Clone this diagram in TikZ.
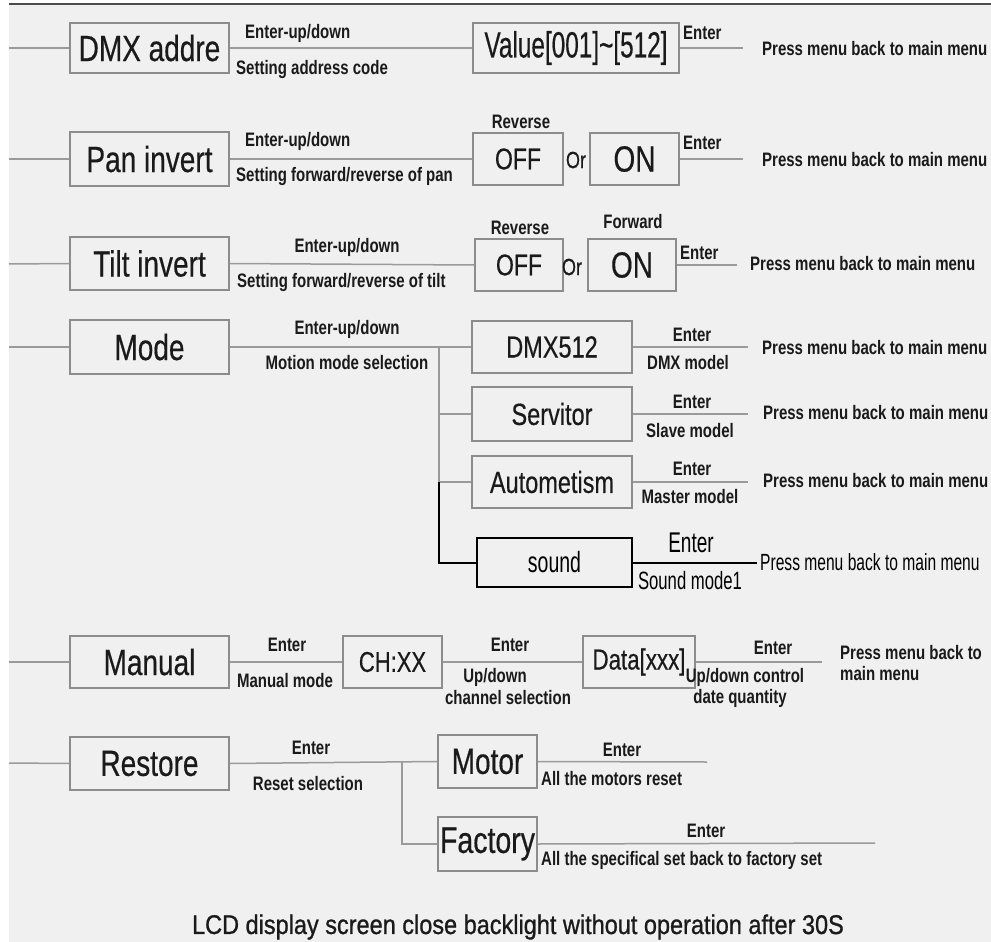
\documentclass[tikz,border=0pt]{standalone}
\usepackage{fontspec}
\setmainfont{Liberation Sans}
\newfontfamily\boxfont[FakeBold=0.5]{Liberation Sans}
\newfontfamily\footfont[FakeBold=1]{Liberation Sans}
\usepackage{graphicx}
\definecolor{bg}{HTML}{F0F0F0}
\definecolor{bd}{HTML}{8C8C8C}
\definecolor{lnc}{HTML}{9A9A9A}
\definecolor{tx}{HTML}{1A1A1A}
\newcommand{\bt}[3][1]{\scalebox{#1}[1.3]{\fontsize{#2}{#2}\selectfont\boxfont #3}}
\newcommand{\lb}[1]{\scalebox{1}[1.3]{\fontsize{15}{15}\selectfont\bfseries #1}}
\newcommand{\cn}[2]{\scalebox{1}[1.5]{\fontsize{#1}{#1}\selectfont #2}}
\begin{document}
\begin{tikzpicture}[x=1pt,y=-1pt,
  box/.style={draw=bd, line width=1.5pt, inner sep=0pt, text=tx},
  bbox/.style={draw=black, line width=2pt, inner sep=0pt, text=black},
  conn/.style={draw=lnc, line width=1.5pt},
  bconn/.style={draw=black, line width=2pt},
  lab/.style={inner sep=0pt, text=tx}]
\useasboundingbox (0,0) rectangle (991,942);
\fill[white] (0,0) rectangle (991,942);
\fill[bg] (9,5) rectangle (991,942);
\draw[line width=2pt, color=black!70] (9,4) -- (991,4);

% Row 1
\node[box, minimum width=159pt, minimum height=50pt] (dmx) at (149.5,48) {\bt{28}{DMX addre}};
\node[box, minimum width=206pt, minimum height=50pt] (val) at (576,48) {\bt[0.87]{28}{Value[001]\char`~[512]}};
\coordinate (l1) at (9,48);
\coordinate (e1) at (743,48);
\draw[conn] (l1) -- (dmx.west);
\draw[conn] (dmx.east) -- (val.west);
\draw[conn] (val.east) -- (e1);
\node[lab, anchor=west] (t1a) at (245,33) {\lb{Enter-up/down}};
\node[lab, anchor=west] (t1b) at (236,70) {\lb{Setting address code}};
\node[lab, anchor=west] (t1c) at (683,33) {\lb{Enter}};
\node[lab, anchor=west] (t1d) at (762,49) {\lb{Press menu back to main menu}};

% Row 2
\node[box, minimum width=159pt, minimum height=54pt] (pan) at (149.5,159) {\bt{28}{Pan invert}};
\node[box, minimum width=90pt, minimum height=52pt] (off1) at (518,159) {\bt{23}{OFF}};
\node[box, minimum width=89pt, minimum height=52pt] (on1) at (634.5,159) {\bt{28}{ON}};
\coordinate (l2) at (9,159);
\coordinate (e2) at (743,159);
\draw[conn] (l2) -- (pan.west);
\draw[conn] (pan.east) -- (off1.west);
\draw[conn] (on1.east) -- (e2);
\node[lab] (or1) at (576,160) {\bt{18}{Or}};
\node[lab] (rv1) at (521,122) {\lb{Reverse}};
\node[lab, anchor=west] (t2a) at (245,141) {\lb{Enter-up/down}};
\node[lab, anchor=west] (t2b) at (236,177) {\lb{Setting forward/reverse of pan}};
\node[lab, anchor=west] (t2c) at (683,143) {\lb{Enter}};
\node[lab, anchor=west] (t2d) at (762,160) {\lb{Press menu back to main menu}};

% Row 3
\node[box, minimum width=159pt, minimum height=53pt] (tilt) at (149.5,263.5) {\bt{28}{Tilt invert}};
\node[box, minimum width=88pt, minimum height=52pt] (off2) at (519,265) {\bt{23}{OFF}};
\node[box, minimum width=88pt, minimum height=52pt] (on2) at (632,265) {\bt{28}{ON}};
\coordinate (l3) at (9,264);
\coordinate (e3) at (737,265);
\draw[conn] (l3) -- (tilt.west);
\draw[conn] (tilt.east) -- (off2.west);
\draw[conn] (on2.east) -- (e3);
\node[lab] (or2) at (572,267) {\bt{18}{Or}};
\node[lab] (rv2) at (520,228) {\lb{Reverse}};
\node[lab] (fw2) at (633,222) {\lb{Forward}};
\node[lab] (t3a) at (347,247) {\lb{Enter-up/down}};
\node[lab, anchor=west] (t3b) at (237,282) {\lb{Setting forward/reverse of tilt}};
\node[lab, anchor=west] (t3c) at (680,253) {\lb{Enter}};
\node[lab, anchor=west] (t3d) at (750,264) {\lb{Press menu back to main menu}};

% Row 4 (Mode)
\node[box, minimum width=159pt, minimum height=54pt] (mode) at (149.5,347) {\bt{28}{Mode}};
\node[box, minimum width=160pt, minimum height=52pt] (dmx5) at (552,347) {\bt{23.5}{DMX512}};
\node[box, minimum width=160pt, minimum height=54pt] (serv) at (552,414) {\bt{23.5}{Servitor}};
\node[box, minimum width=160pt, minimum height=52pt] (auto) at (552,482) {\bt{23.5}{Autometism}};
\node[bbox, minimum width=155pt, minimum height=49pt] (snd) at (554.5,562.5) {\cn{19.5}{sound}};
\coordinate (l4) at (9,347);
\coordinate (mj) at (439,347);
\coordinate (mk) at (439,482);
\coordinate (e4) at (748,347);
\coordinate (e5) at (748,414);
\coordinate (e6) at (748,482);
\coordinate (e7) at (757,562.5);
\draw[conn] (l4) -- (mode.west);
\draw[conn] (mode.east) -- (dmx5.west);
\draw[conn] (mj) |- (serv.west);
\draw[conn] (mj) -- (mk) -- (auto.west);
\draw[bconn] (mk) |- (snd.west);
\draw[conn] (dmx5.east) -- (e4);
\draw[conn] (serv.east) -- (e5);
\draw[conn] (auto.east) -- (e6);
\draw[bconn] (snd.east) -- (e7);
\node[lab] (t4a) at (347,329) {\lb{Enter-up/down}};
\node[lab] (t4b) at (347,363) {\lb{Motion mode selection}};
\node[lab] (t4c) at (692,335) {\lb{Enter}};
\node[lab] (t4d) at (688,363) {\lb{DMX model}};
\node[lab, anchor=west] (t4e) at (762,348) {\lb{Press menu back to main menu}};
\node[lab] (t5c) at (692,402) {\lb{Enter}};
\node[lab] (t5d) at (690,431) {\lb{Slave model}};
\node[lab, anchor=west] (t5e) at (763,413) {\lb{Press menu back to main menu}};
\node[lab] (t6c) at (692,469) {\lb{Enter}};
\node[lab] (t6d) at (690,497) {\lb{Master model}};
\node[lab, anchor=west] (t6e) at (763,481) {\lb{Press menu back to main menu}};
\node[lab, text=black] (t7c) at (691,543) {\cn{19}{Enter}};
\node[lab, text=black] (t7d) at (690,581) {\cn{16.7}{Sound mode1}};
\node[lab, anchor=west, text=black] (t7e) at (760,562) {\cn{15.6}{Press menu back to main menu}};

% Row 5 (Manual)
\node[box, minimum width=159pt, minimum height=52pt] (man) at (149.5,662) {\bt{28}{Manual}};
\node[box, minimum width=99pt, minimum height=52pt] (ch) at (392.5,662) {\bt{22}{CH:XX}};
\node[box, minimum width=112pt, minimum height=52pt] (data) at (639,662) {\bt{22.3}{Data[xxx]}};
\coordinate (l8) at (9,662);
\coordinate (e8) at (822,662);
\draw[conn] (l8) -- (man.west);
\draw[conn] (man.east) -- (ch.west);
\draw[conn] (ch.east) -- (data.west);
\draw[conn] (data.east) -- (e8);
\node[lab] (t8a) at (287,645) {\lb{Enter}};
\node[lab] (t8b) at (285,681) {\lb{Manual mode}};
\node[lab] (t8c) at (510,645) {\lb{Enter}};
\node[lab] (t8d) at (495,677) {\lb{Up/down}};
\node[lab] (t8e) at (508,698) {\lb{channel selection}};
\node[lab] (t8f) at (773,648) {\lb{Enter}};
\node[lab] (t8g) at (745,677) {\lb{Up/down control}};
\node[lab] (t8h) at (740,698) {\lb{date quantity}};
\node[lab, anchor=west] (t8i) at (840,653) {\lb{Press menu back to}};
\node[lab, anchor=west] (t8j) at (840,674) {\lb{main menu}};

% Row 6 (Restore)
\node[box, minimum width=159pt, minimum height=53pt] (rest) at (149.5,763.5) {\bt{28}{Restore}};
\node[box, minimum width=99pt, minimum height=53pt] (motor) at (487.5,761.5) {\bt{28}{Motor}};
\node[box, minimum width=99pt, minimum height=54pt] (fact) at (487.5,844) {\bt{28.5}{Factory}};
\coordinate (l9) at (9,763);
\coordinate (rj) at (402,762);
\coordinate (e9) at (707,762);
\coordinate (e10) at (875,843);
\draw[conn] (l9) -- (rest.west);
\draw[conn] (rest.east) -- (motor.west);
\draw[conn] (rj) |- (fact.west);
\draw[conn] (motor.east) -- (e9);
\draw[conn] (fact.east) -- (e10);
\node[lab] (t9a) at (311,748) {\lb{Enter}};
\node[lab] (t9b) at (308,784) {\lb{Reset selection}};
\node[lab] (t9c) at (622,750) {\lb{Enter}};
\node[lab, anchor=west] (t9d) at (541,779) {\lb{All the motors reset}};
\node[lab] (t10a) at (706,831) {\lb{Enter}};
\node[lab, anchor=west] (t10b) at (541,860) {\lb{All the specifical set back to factory set}};

% Footer
\node[lab] (foot) at (518,927) {\scalebox{1}[1.15]{\fontsize{23.5}{23.5}\selectfont\footfont LCD display screen close backlight without operation after 30S}};
\end{tikzpicture}
\end{document}
